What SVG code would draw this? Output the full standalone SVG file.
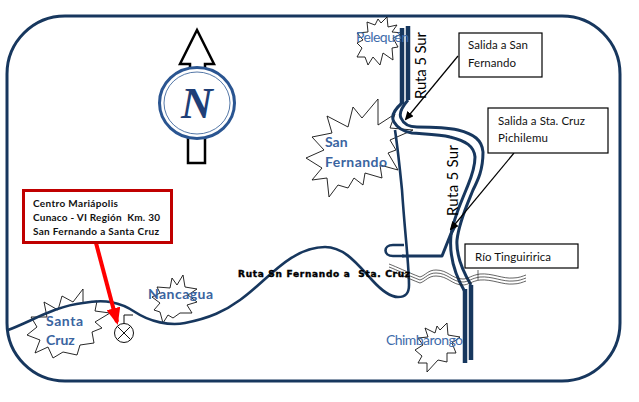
<svg xmlns="http://www.w3.org/2000/svg" xmlns:xlink="http://www.w3.org/1999/xlink" width="639" height="402" viewBox="0 0 639 402">
<style>
text{font-family:"Lato","Liberation Sans",sans-serif;white-space:pre}
.star{fill:#fff;stroke:#111;stroke-width:.9}
.town{fill:#3a64a0;font-weight:700;font-size:14px}
.townl{fill:#3f6cab;font-size:14px}
.road{fill:none;stroke:#17375e;stroke-linejoin:round;stroke-linecap:butt}
.box{fill:#fff;stroke:#000;stroke-width:1.2}
.lbl{font-size:11.5px;fill:#111}
.red{font-size:10px;font-weight:700;fill:#111}
.rt{font-size:15px;fill:#000}
.riv{fill:none;stroke:#222;stroke-width:.7}
.lead{stroke:#000;stroke-width:1.2;fill:none}
</style>
<defs>
<marker id="ah" markerWidth="9" markerHeight="8" refX="7" refY="4" orient="auto" markerUnits="userSpaceOnUse"><path d="M0 0L9 4L0 8Z" fill="#000"/></marker>
<marker id="rh" markerWidth="17" markerHeight="14" refX="14" refY="7" orient="auto" markerUnits="userSpaceOnUse"><path d="M0 0L17 7L0 14Z" fill="#f00"/></marker>
<path id="w" d="M389 264C397 267 407 272 420 277C426 275 428 270 436 270C448 270 452 279 463 279C468 279 472 275 480 274C492 273 503 279 513 278C519 278 523 276 526 275"/>
</defs>
<rect id="frame" x="7" y="16" width="613" height="365" rx="58" fill="none" stroke="#17375e" stroke-width="3"/>

<g id="north">
<path d="M190 70V64H180L197 30L214 64H205V70Z" fill="#fff" stroke="#000" stroke-width="2.500" stroke-linejoin="miter"/>
<path d="M188 136V163H205V136" fill="#fff" stroke="#000" stroke-width="2.500"/>
<ellipse cx="197" cy="103" rx="37.500" ry="35.500" fill="#fff" stroke="#2a5591" stroke-width="3"/>
<ellipse cx="197" cy="103" rx="33" ry="31" fill="none" stroke="#2a5591" stroke-width=".8"/>
<text x="197" y="118" text-anchor="middle" style="font-family:'Liberation Serif',serif;font-style:italic;font-weight:700;font-size:44px;fill:#1f3f77">N</text>
</g>

<g id="pelequen-star">
<polygon class="star" points="367,22 375,25 378,19 381,23 387,17 388,27 397,25 392,32 403,33 393,38 398,47 392,48 393,60 383,53 380,65 373,57 368,65 365,57 357,57 362,48 357,43 363,40 357,33 368,32"/>
</g>
<g id="san-fernando">
<polygon class="star" points="378,99 378,125 395,114 390,128 413,130 390,140 396,150 388,153 398,170 380,165 382,178 365,173 363,185 354,178 348,188 338,185 329,197 327,178 312,180 322,168 306,158 324,150 312,137 332,133 327,116 348,127 353,107 362,118"/>
<text class="town" x="325" y="147">San</text>
<text class="town" x="325" y="167" textLength="62">Fernando</text>
</g>
<g id="santa-cruz">
<polygon class="star" points="44,302 58,310 62,296 73,302 83,289 83,303 97,301 95,311 110,313 95,322 102,328 92,332 94,343 80,345 77,355 63,352 53,358 48,347 35,353 40,340 27,335 37,327 31,317 47,317"/>
<text class="town" x="46" y="326" textLength="37">Santa</text>
<text class="town" x="46" y="345">Cruz</text>
</g>
<g id="nancagua">
<polygon class="star" points="172,278 177,285 183,275 185,287 197,289 188,295 197,302 187,305 192,313 180,313 173,318 168,315 163,323 160,312 154,310 160,303 152,297 160,293 157,287 170,288"/>
<text class="town" x="148" y="299" textLength="65">Nancagua</text>
</g>
<g id="chimbarongo">
<polygon class="star" points="425,328 435,333 437,326 440,330 447,323 448,335 460,337 452,343 456,353 447,353 447,362 438,360 427,372 427,363 418,363 422,356 415,350 423,345 418,338 428,337"/>
<text class="townl" x="386" y="345" textLength="77">Chimbarongo</text>
</g>

<g id="connectors">
<path class="road" stroke-width="2.600" d="M8 330C30 322 55 306 83 303C105 299 120 302 135 312C150 322 170 326 185 323C210 318 225 311 240 300C265 283 290 247 325 247C345 247 358 265 372 280C382 291 390 297 398 297C406 297 409 293 409 285C409 265 405 235 402 190C400 170 398 150 395 130"/>
<path class="road" stroke-width="2.600" d="M404 245H393C383 245 383 256 393 256H404"/>
<path class="road" stroke-width="3" d="M402 256H442L450 236L455 226"/>
<path class="road" stroke-width="4.500" d="M402 28V104"/>
<path class="road" stroke-width="4.500" d="M408 26V100"/>
<path class="road" stroke-width="3" d="M402 103C394 110 391 117 394 122C398 129 406 132 412 133C425 134 440 134 450 137C466 141 474 146 475 157C475 170 470 180 466 190C460 205 453 220 451 235C449 255 455 275 465 292"/>
<path class="road" stroke-width="3" d="M408 100C402 107 399 114 401 118C404 125 410 127 417 127C430 127 445 127 458 130C474 134 482 140 483 152C483 170 478 180 473 190C467 205 459 222 457 240C456 255 462 270 471 285"/>
<path class="road" stroke-width="4.500" d="M465 289V363"/>
<path class="road" stroke-width="4.500" d="M471 285V360"/>
<path class="lead" d="M458 56L406 119" marker-end="url(#ah)"/>
<path class="lead" d="M514 153L451 229" marker-end="url(#ah)"/>
<path d="M96 243L117 322" fill="none" stroke="#f00" stroke-width="4" marker-end="url(#rh)"/>
</g>

<g id="rio">
<use xlink:href="#w" class="riv"/>
<use xlink:href="#w" class="riv" y="3"/>
<use xlink:href="#w" class="riv" y="6"/>
<path d="M478 270V280" class="riv"/>
</g>

<g id="pelequen-label">
<text class="townl" x="356" y="42" textLength="53">Pelequén</text>
</g>

<g id="ruta5-labels">
<text class="rt" transform="translate(426 99) rotate(-90)" textLength="67">Ruta 5 Sur</text>
<text class="rt" transform="translate(458 216) rotate(-90)" textLength="71">Ruta 5 Sur</text>
<text x="238" y="277" textLength="172" style="font-family:'DejaVu Sans',sans-serif;font-weight:700;font-size:9px;fill:#000;stroke:#000;stroke-width:.4">Ruta Sn Fernando a  Sta. Cruz</text>
</g>

<g id="salida-san-fernando">
<rect class="box" x="459" y="33" width="83" height="44"/>
<text class="lbl" x="468" y="49" textLength="60">Salida a San</text>
<text class="lbl" x="468" y="67" textLength="48">Fernando</text>
</g>
<g id="salida-sta-cruz">
<rect class="box" x="488" y="108" width="120" height="45"/>
<text class="lbl" x="498" y="125" textLength="87">Salida a Sta. Cruz</text>
<text class="lbl" x="498" y="142" textLength="50">Pichilemu</text>
</g>
<g id="rio-tinguiririca">
<rect class="box" x="465" y="244" width="113" height="24"/>
<text class="lbl" x="475" y="261" textLength="76">Río Tinguiririca</text>
</g>
<g id="centro">
<rect x="23.500" y="190.500" width="148" height="52" fill="#fff" stroke="#c00000" stroke-width="3"/>
<text class="red" x="33" y="207" textLength="85">Centro Mariápolis</text>
<text class="red" x="33" y="221" textLength="127">Cunaco - VI Región  Km. 30</text>
<text class="red" x="33" y="235" textLength="126">San Fernando a Santa Cruz</text>
</g>
<g id="destino" fill="none" stroke="#111" stroke-width="1">
<circle cx="124" cy="333" r="9.500" fill="#fff"/>
<path d="M117.300 326.300L130.700 339.700M130.700 326.300L117.300 339.700M124 323.500V315H133"/>
</g>
</svg>
